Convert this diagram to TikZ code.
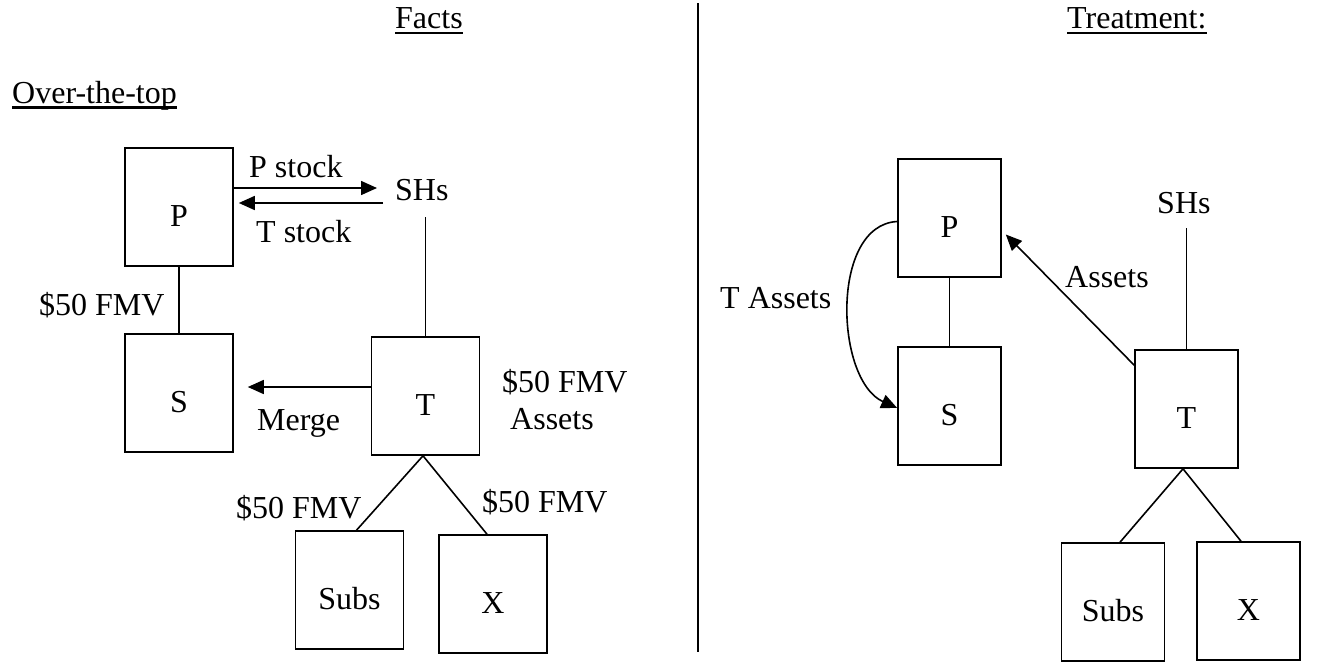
\documentclass[tikz,border=0pt]{standalone}
\usepackage{fontspec}
\setmainfont{Liberation Serif}
\usetikzlibrary{arrows.meta}
\begin{document}
\begin{tikzpicture}[x=1pt,y=-1pt,
  every node/.style={font=\fontsize{32}{38}\selectfont, inner sep=0pt},
  bx/.style={draw, line width=1.6pt, minimum width=#1, text height=78pt, text depth=40pt, anchor=base},
  bx/.default=108pt,
  lbl/.style={anchor=base west},
  ln/.style={line width=1.6pt},
  arr/.style={line width=1.6pt, -{Triangle[length=16pt,width=14pt]}},
  ul/.style={line width=2.2pt}]
\useasboundingbox (0,0) rectangle (1325,662);

% headings
\node[lbl] (facts) at (395,28) {Facts};
\draw[ul] ([yshift=-5pt]facts.base west) -- ([yshift=-5pt]facts.base east);
\node[lbl] (treat) at (1067,28) {Treatment:};
\draw[ul] ([yshift=-5pt]treat.base west) -- ([yshift=-5pt]treat.base east);
\node[lbl] (ott) at (12,103) {Over-the-top};
\draw[ul] ([yshift=-4.5pt]ott.base west) -- ([yshift=-4.5pt]ott.base east);

% divider
\coordinate (dtop) at (698,3);
\coordinate (dbot) at (698,652);
\draw[ln] (dtop) -- (dbot);

% left panel boxes
\node[bx] (lP) at (179,226) {P};
\node[bx] (lS) at (179,412) {S};
\node[bx] (lT) at (425.5,415) {T};
\node[bx] (lSubs) at (349.5,609) {Subs};
\node[bx] (lX) at (493,613) {X};

% left panel labels
\node[lbl] (lSH) at (395,200) {SHs};
\node[lbl] (pstock) at (249,177) {P stock};
\node[lbl] (tstock) at (256,242) {T stock};
\node[lbl] (fmv1) at (39,315) {\$50 FMV};
\node[lbl] (merge) at (257,430) {Merge};
\node[lbl] (fmv2) at (502,392) {\$50 FMV};
\node[lbl] (assets1) at (510,429) {Assets};
\node[lbl] (fmv3) at (236,518) {\$50 FMV};
\node[lbl] (fmv4) at (482,512) {\$50 FMV};

% left connectors
\coordinate (yPst) at (0,188);
\coordinate (yTst) at (0,203);
\coordinate (yMrg) at (0,387);
\draw[arr, shorten >=18pt] (lP.east |- yPst) -- (lSH.west |- yPst);
\draw[arr, shorten <=12pt, shorten >=5pt] (lSH.west |- yTst) -- (lP.east |- yTst);
\draw[arr, shorten >=14pt] (lT.west |- yMrg) -- (lS.east |- yMrg);
\draw[ln, shorten >=16pt] (lT.north) -- (lT.north |- lSH.south);
\draw[ln] (lP.south) -- (lS.north);
\draw[ln] ([xshift=-2.5pt]lT.south) -- ([xshift=7pt]lSubs.north);
\draw[ln] ([xshift=-2.5pt]lT.south) -- ([xshift=-6pt]lX.north);

% right panel boxes
\node[bx=103pt] (rP) at (949.5,237) {P};
\node[bx=103pt] (rS) at (949.5,425) {S};
\node[bx=103pt] (rT) at (1186.5,428) {T};
\node[bx=103pt] (rSubs) at (1113,621) {Subs};
\node[bx=103pt] (rX) at (1248.5,620) {X};

% right panel labels
\node[lbl] (tassets) at (720,308) {T Assets};
\node[lbl] (assets2) at (1065,287) {Assets};
\node[lbl] (rSH) at (1157,213) {SHs};

% right connectors
\draw[ln] (rP.south) -- (rS.north);
\draw[ln, shorten >=14.5pt] (rT.north) -- (rT.north |- rSH.south);
\draw[arr] ([yshift=-16pt]rT.north west) -- ([xshift=4pt,yshift=-16.5pt]rP.east);
\draw[arr] ([yshift=-3.5pt]rP.west) .. controls (830,225) and (835,380) .. ([yshift=-2pt]rS.west);
\draw[ln] ([xshift=-3.5pt]rT.south) -- ([xshift=7pt]rSubs.north);
\draw[ln] ([xshift=-3.5pt]rT.south) -- ([xshift=-7.5pt]rX.north);
\end{tikzpicture}
\end{document}
